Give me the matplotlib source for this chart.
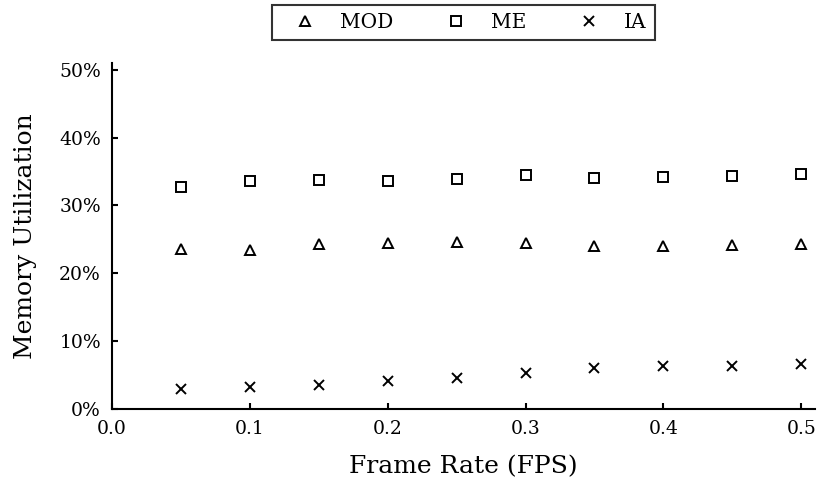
import matplotlib
matplotlib.use("Agg")
import matplotlib.pyplot as plt
from matplotlib.ticker import PercentFormatter

plt.rcParams["font.family"] = ["DejaVu Serif"]

frame_rate = [0.05, 0.10, 0.15, 0.20, 0.25, 0.30, 0.35, 0.40, 0.45, 0.50]
mod_util = [0.236, 0.234, 0.243, 0.244, 0.246, 0.244, 0.241, 0.241, 0.242, 0.243]
me_util = [0.327, 0.336, 0.338, 0.336, 0.339, 0.345, 0.341, 0.342, 0.343, 0.346]
ia_util = [0.030, 0.033, 0.036, 0.042, 0.046, 0.053, 0.060, 0.063, 0.064, 0.066]
x_ticks = [0.0, 0.1, 0.2, 0.3, 0.4, 0.5]
y_ticks = [0.0, 0.1, 0.2, 0.3, 0.4, 0.5]

fig = plt.figure(figsize=(8.2, 4.86), dpi=100)
ax = fig.add_axes([0.1366, 0.1584, 0.8573, 0.712])

marker_style = dict(linestyle="none", markersize=7, markeredgecolor="black",
                    markeredgewidth=1.4)
ax.plot(frame_rate, mod_util, marker="^", markerfacecolor="none", label="MOD", **marker_style)
ax.plot(frame_rate, me_util, marker="s", markerfacecolor="none", label="ME", **marker_style)
ax.plot(frame_rate, ia_util, marker="x", label="IA", **marker_style)

ax.set_xlim(0, 0.51)
ax.set_ylim(0, 0.51)
ax.set_xticks(x_ticks)
ax.set_yticks(y_ticks)
ax.yaxis.set_major_formatter(PercentFormatter(1.0, decimals=0))
ax.spines["top"].set_visible(False)
ax.spines["right"].set_visible(False)
for s in ("left", "bottom"):
    ax.spines[s].set_linewidth(1.5)
ax.tick_params(direction="in", length=4, width=1.5, labelsize=13.5, pad=8)

ax.set_xlabel("Frame Rate (FPS)", fontsize=18, labelpad=12)
ax.set_ylabel("Memory Utilization", fontsize=18, labelpad=16)

leg = ax.legend(loc="lower center", bbox_to_anchor=(0.5, 1.066), ncol=3, fontsize=14.5,
                frameon=True, fancybox=False, edgecolor="black", columnspacing=1.9,
                handlelength=2.4, handletextpad=0.55, borderpad=0.4, borderaxespad=0)
leg.get_frame().set_linewidth(1.5)

fig.savefig("out.png", dpi=100)
